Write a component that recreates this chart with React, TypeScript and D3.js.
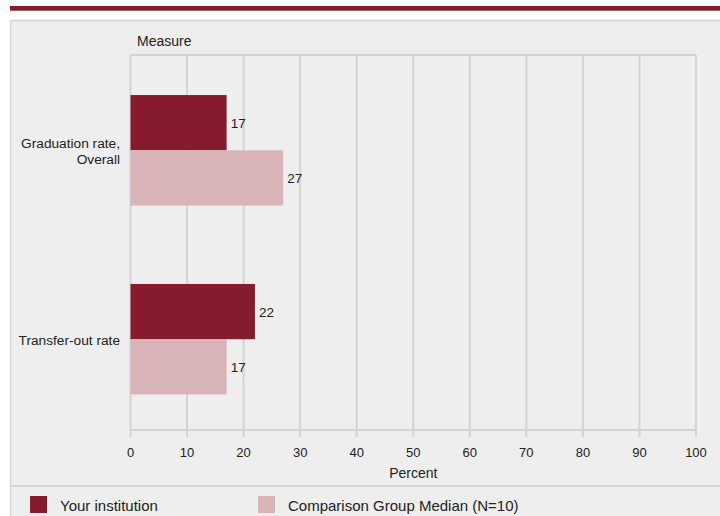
import * as d3 from "d3";
import { useRef, useEffect } from "react";

const measures: string[][] = [["Graduation rate,", "Overall"], ["Transfer-out rate"]];
const yourInstitution: number[] = [17, 22];
const comparisonMedian: number[] = [27, 17];
const seriesNames: string[] = ["Your institution", "Comparison Group Median (N=10)"];
const xTicks: number[] = [0, 10, 20, 30, 40, 50, 60, 70, 80, 90, 100];

const colors = ["#861b2d", "#d8b4b9"];
const FONT = "'Liberation Sans', Arial, sans-serif";

export default function App() {
  const svgRef: any = useRef();

  useEffect(() => {
    const w = 720;
    const h = 516;
    const svg = d3.select(svgRef.current).attr("width", w).attr("height", h);
    svg.selectAll("*").remove();

    // top stripe + panel
    svg.append("rect").attr("x", 10).attr("y", 6).attr("width", 710).attr("height", 4.7).attr("fill", "#861b2d");
    svg
      .append("rect")
      .attr("x", 10.5)
      .attr("y", 20.5)
      .attr("width", 720)
      .attr("height", 520)
      .attr("fill", "#eeeeee")
      .attr("stroke", "#d6d6d6")
      .attr("stroke-width", 1.5);
    svg.append("line").attr("x1", 10).attr("x2", 720).attr("y1", 486).attr("y2", 486).attr("stroke", "#d6d6d6").attr("stroke-width", 2);

    const left = 130.5;
    const right = 696;
    const top = 55;
    const bottom = 430;

    const xScale = d3.scaleLinear().domain([0, 100]).range([left, right]);
    const yBand = d3
      .scaleBand()
      .domain(measures.map((_, i) => String(i)))
      .range([top, bottom])
      .paddingInner(0.415)
      .paddingOuter(0.2)
      .align(0.53);
    const ySub = d3.scaleBand().domain(["0", "1"]).range([0, yBand.bandwidth()]);

    // grid
    const g = svg.append("g");
    g.selectAll(".grid")
      .data(xTicks)
      .join("line")
      .attr("x1", (d) => xScale(d))
      .attr("x2", (d) => xScale(d))
      .attr("y1", top)
      .attr("y2", bottom + 7)
      .attr("stroke", "#d3d3d3")
      .attr("stroke-width", 2);
    g.append("line").attr("x1", left).attr("x2", right).attr("y1", top).attr("y2", top).attr("stroke", "#d3d3d3").attr("stroke-width", 2);
    g.append("line").attr("x1", left).attr("x2", right).attr("y1", bottom).attr("y2", bottom).attr("stroke", "#d3d3d3").attr("stroke-width", 2);

    // tick labels
    g.selectAll(".tick")
      .data(xTicks)
      .join("text")
      .attr("x", (d) => xScale(d))
      .attr("y", 457)
      .attr("text-anchor", "middle")
      .attr("font-family", FONT)
      .attr("font-size", 13)
      .attr("fill", "#222")
      .text((d) => d);
    svg.append("text").attr("x", (left + right) / 2).attr("y", 478).attr("text-anchor", "middle").attr("font-family", FONT).attr("font-size", 14).attr("fill", "#222").text("Percent");
    svg.append("text").attr("x", 137).attr("y", 46).attr("font-family", FONT).attr("font-size", 14).attr("fill", "#222").text("Measure");

    // bars
    const series = [yourInstitution, comparisonMedian];
    series.forEach((vals, s) => {
      const sg = svg.append("g");
      sg.selectAll("rect")
        .data(vals)
        .join("rect")
        .attr("x", left)
        .attr("y", (_, i) => (yBand(String(i)) as number) + (ySub(String(s)) as number))
        .attr("width", (d) => xScale(d) - left)
        .attr("height", ySub.bandwidth())
        .attr("fill", colors[s]);
      sg.selectAll("text")
        .data(vals)
        .join("text")
        .attr("x", (d) => xScale(d) + 4)
        .attr("y", (_, i) => (yBand(String(i)) as number) + (ySub(String(s)) as number) + ySub.bandwidth() / 2 + 5)
        .attr("font-family", FONT)
        .attr("font-size", 13.5)
        .attr("fill", "#222")
        .text((d) => d);
    });

    // category labels
    measures.forEach((lines, i) => {
      const cy = (yBand(String(i)) as number) + yBand.bandwidth() / 2;
      const t = svg
        .append("text")
        .attr("text-anchor", "end")
        .attr("font-family", FONT)
        .attr("font-size", 13.7)
        .attr("fill", "#222");
      lines.forEach((ln, j) => {
        t.append("tspan")
          .attr("x", 120)
          .attr("y", cy + 6 + (j - (lines.length - 1) / 2) * 16)
          .text(ln);
      });
    });

    // legend
    const legX = [30, 258];
    seriesNames.forEach((name, s) => {
      svg.append("rect").attr("x", legX[s]).attr("y", 496).attr("width", 17).attr("height", 17).attr("fill", colors[s]);
      svg.append("text").attr("x", legX[s] + 30).attr("y", 511).attr("font-family", FONT).attr("font-size", 15).attr("fill", "#222").text(name);
    });
  }, []);

  return (
    <div>
      <style>{`body{margin:0;overflow:hidden}`}</style>
      <svg ref={svgRef} style={{ display: "block" }}></svg>
    </div>
  );
}
